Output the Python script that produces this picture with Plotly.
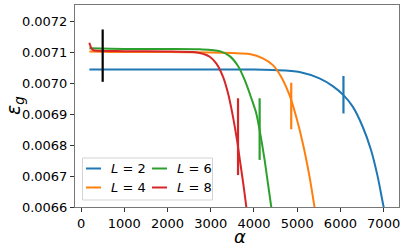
import plotly.graph_objects as go

# ---- data ----
alpha_L2 = [192, 1000, 2000, 3000, 4000, 4438, 5054, 5515, 5823, 6070, 6285, 6515, 6708, 6862, 7000, 7100]
eps_L2 = [0.007044, 0.007044, 0.007044, 0.007044, 0.007044, 0.007042, 0.007036, 0.007015, 0.006990,
          0.006961, 0.006924, 0.006859, 0.006784, 0.006698, 0.006600, 0.006540]

alpha_L4 = [192, 1000, 2000, 3000, 3500, 3900, 4208, 4438, 4631, 4823, 4977, 5131, 5285, 5400, 5480]
eps_L4 = [0.007102, 0.007100, 0.007100, 0.007099, 0.007097, 0.007094, 0.007080, 0.007058, 0.007020,
          0.006961, 0.006891, 0.006805, 0.006698, 0.006600, 0.006530]

alpha_L6 = [192, 1000, 2000, 2746, 3208, 3438, 3631, 3785, 3939, 4054, 4131, 4246, 4323, 4400, 4450]
eps_L6 = [0.007112, 0.007110, 0.007110, 0.007109, 0.007103, 0.007087, 0.007055, 0.007010, 0.006951,
          0.006902, 0.006848, 0.006752, 0.006676, 0.006600, 0.006550]

alpha_L8 = [192, 230, 280, 400, 1000, 2000, 2592, 2746, 2977, 3131, 3285, 3400, 3515, 3608, 3685, 3762, 3823, 3860]
eps_L8 = [0.007130, 0.007115, 0.007106, 0.007104, 0.007103, 0.007102, 0.007100, 0.007097, 0.007085,
          0.007063, 0.007020, 0.006967, 0.006891, 0.006816, 0.006741, 0.006666, 0.006600, 0.006560]

marker_alpha = [500, 6070, 4862, 4131, 3631]
marker_lo = [0.007004, 0.006902, 0.006851, 0.006752, 0.006703]
marker_hi = [0.007173, 0.007023, 0.007001, 0.006951, 0.006951]

x_ticks = [0, 1000, 2000, 3000, 4000, 5000, 6000, 7000]
y_ticks = [0.0066, 0.0067, 0.0068, 0.0069, 0.0070, 0.0071, 0.0072]
y_ticktext = ["0.0066", "0.0067", "0.0068", "0.0069", "0.0070", "0.0071", "0.0072"]

labels = ["2", "4", "6", "8"]
colors = ["#1f77b4", "#ff7f0e", "#2ca02c", "#d62728"]
marker_colors = ["#000000", "#1f77b4", "#ff7f0e", "#2ca02c", "#d62728"]

series = [(alpha_L2, eps_L2), (alpha_L4, eps_L4), (alpha_L6, eps_L6), (alpha_L8, eps_L8)]

# ---- figure geometry (pixels) ----
W, H = 407, 249
ML, MR, MT, MB = 75, 8, 5, 42
PW, PH = W - ML - MR, H - MT - MB


def px(x):
    return (x - ML) / PW


def py(y):
    return (H - MB - y) / PH


fig = go.Figure()
for (ax, ey), lab, col in zip(series, labels, colors):
    fig.add_trace(go.Scatter(
        x=ax, y=ey, mode="lines", name=f"<i>L</i> = {lab}",
        line=dict(color=col, width=2, shape="spline", smoothing=0.8),
        showlegend=False,
    ))

for a, lo, hi, col in zip(marker_alpha, marker_lo, marker_hi, marker_colors):
    fig.add_trace(go.Scatter(
        x=[a, a], y=[lo, hi], mode="lines", showlegend=False,
        line=dict(color=col, width=2.2),
    ))

axis_common = dict(
    showline=True, mirror=True, linecolor="#777", linewidth=1,
    ticks="outside", ticklen=4, tickwidth=1, tickcolor="#333",
    showgrid=False, zeroline=False, automargin=False,
    tickfont=dict(family="DejaVu Sans", size=13, color="#000"),
)

# ---- legend box (drawn manually to mimic the compact two-column legend) ----
bx0, bx1, by0, by1 = px(82.5), px(212.5), py(200), py(158)
shapes = [dict(type="rect", xref="paper", yref="paper", x0=bx0, x1=bx1, y0=by0, y1=by1,
               line=dict(color="#d3d3d3", width=1), fillcolor="rgba(255,255,255,0.8)", layer="above")]
annotations = []
legend_pos = [(86, 168.5), (86, 187.5), (152, 168.5), (152, 187.5)]
for (lx, ly), lab, col in zip(legend_pos, labels, colors):
    shapes.append(dict(type="line", xref="paper", yref="paper", x0=px(lx), x1=px(lx + 15),
                       y0=py(ly), y1=py(ly), line=dict(color=col, width=2), layer="above"))
    annotations.append(dict(text=f"<i>L</i> = {lab}", xref="paper", yref="paper", x=px(lx + 23),
                            y=py(ly), xanchor="left", yanchor="middle", showarrow=False,
                            font=dict(family="DejaVu Sans", size=13, color="#000")))

annotations += [
    dict(text="<i>α</i>", xref="paper", yref="paper", x=px(240), y=py(237), xanchor="center",
         yanchor="middle", showarrow=False, font=dict(family="DejaVu Sans", size=18, color="#000")),
    dict(text="<i>ε<sub>g</sub></i>", xref="paper", yref="paper", x=px(14), y=py(106), xanchor="center",
         yanchor="middle", textangle=-90, showarrow=False,
         font=dict(family="DejaVu Sans", size=19, color="#000")),
]

fig.update_layout(
    template="none",
    width=W, height=H,
    margin=dict(l=ML, r=MR, t=MT, b=MB, pad=0),
    paper_bgcolor="white", plot_bgcolor="white",
    showlegend=False,
    xaxis=dict(range=[-140, 7355], tickvals=x_ticks, **axis_common),
    yaxis=dict(range=[0.0066, 0.007252], tickvals=y_ticks, ticktext=y_ticktext, **axis_common),
    shapes=shapes,
    annotations=annotations,
)

fig.write_html("out.html", config={"displayModeBar": False},
               post_script="document.body.style.margin='0';")
